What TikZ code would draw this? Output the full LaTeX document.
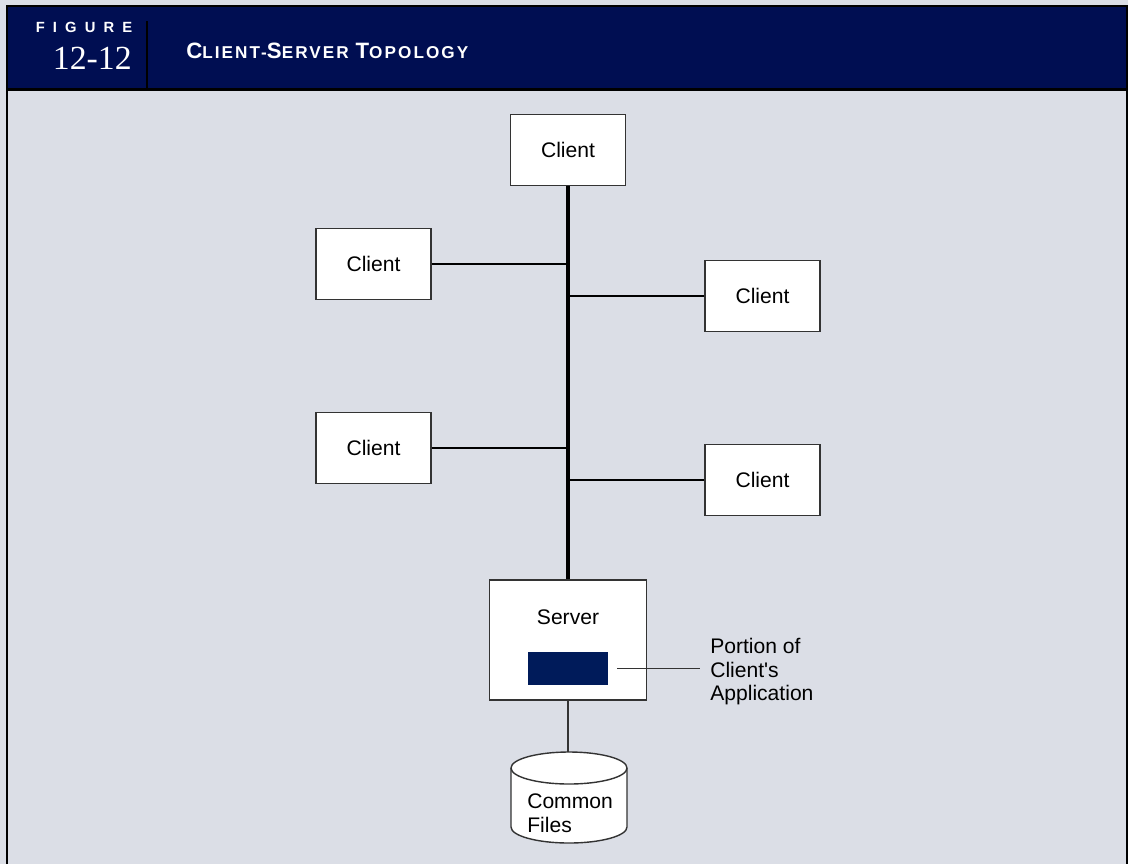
\documentclass[tikz,border=0pt]{standalone}
\usepackage{fontspec}
\setmainfont{Liberation Sans}
\newfontfamily\numfont{Liberation Serif}
\newfontfamily\headfont[LetterSpace=12]{Liberation Sans}
\newfontfamily\figfont[LetterSpace=55]{Liberation Sans}
\usepackage{tikz}
\usetikzlibrary{positioning}
\definecolor{panelgray}{RGB}{219,222,230}
\definecolor{headnavy}{RGB}{0,14,82}
\definecolor{appnavy}{RGB}{0,27,90}

\begin{document}
\begin{tikzpicture}[x=0.025cm, y=-0.025cm,
  every node/.style={font=\fontsize{15}{16.7}\selectfont},
  box/.style={draw=black!80, line width=1pt, fill=white, minimum width=2.875cm, minimum height=1.775cm, inner sep=0pt},
  bus/.style={line width=2.4pt},
  tap/.style={line width=1.8pt},
  thinline/.style={draw=black!80, line width=1pt}]
  \useasboundingbox (0,0) rectangle (1128,864);
  \fill[panelgray] (0,0) rectangle (1128,864);

  % header band
  \fill[headnavy] (7,6) rectangle (1127,90);
  \draw[line width=2pt] (7,864) -- (7,6) -- (1127,6) -- (1127,864);
  \draw[line width=2pt] (7,89.5) -- (1127,89.5);
  \draw[line width=2pt] (147,21) -- (147,89.5);
  \node[font=\figfont\bfseries\fontsize{10.5}{12}\selectfont, text=white, inner sep=0pt] (figword) at (84,27) {FIGURE};
  \node[font=\numfont\fontsize{24}{26}\selectfont, text=white, anchor=east, inner sep=0pt] (fignum) at (132,58) {12-12};
  \node[font=\headfont\bfseries, text=white, anchor=west, inner sep=0pt] (title) at (186,51)
    {{\fontsize{15.8}{18}\selectfont C}{\fontsize{12.2}{14}\selectfont LIENT-}{\fontsize{15.8}{18}\selectfont S}{\fontsize{12.2}{14}\selectfont ERVER }{\fontsize{15.8}{18}\selectfont T}{\fontsize{12.2}{14}\selectfont OPOLOGY}};

  % clients
  \node[box] (top) at (568,150) {Client};
  \foreach \name/\x/\y in {l1/373.5/264, r1/762.5/296, l2/373.5/448, r2/762.5/480}
    \node[box] (\name) at (\x,\y) {Client};

  % server
  \node[box, minimum width=3.925cm, minimum height=3cm] (server) at (568,640) {};
  \node[inner sep=0pt] (srvtext) at (568,617) {Server};
  \node[fill=appnavy, minimum width=2cm, minimum height=0.825cm, inner sep=0pt] (app) at (568,668.5) {};
  \node[align=left, anchor=west, inner sep=0pt] (portion) at (710,672) {Portion of\\Client\textquotesingle s\\Application};

  % common files
  \coordinate (filestop) at (569,752);
  \draw[draw=black!80, line width=1pt, fill=white] (511,768) -- (511,827)
    arc[start angle=180, end angle=0, x radius=58, y radius=16] -- (627,768)
    arc[start angle=0, end angle=-180, x radius=58, y radius=16] -- cycle;
  \draw[draw=black!80, line width=1pt] (511,768) arc[start angle=180, end angle=0, x radius=58, y radius=16];
  \node[align=left, anchor=west, inner sep=0pt] (filetext) at (527,813) {Common\\Files};

  % bus and taps
  \draw[bus] (top.south) -- (top.south |- server.north);
  \foreach \name in {l1,l2}
    \draw[tap] (\name.east) -- (\name.east -| top.south);
  \foreach \name in {r1,r2}
    \draw[tap] (\name.west) -- (\name.west -| top.south);
  \draw[thinline] ([xshift=0.225cm]app.east) -- ([xshift=-0.25cm]portion.west |- app.east);
  \draw[thinline] (server.south) -- (server.south |- filestop);
\end{tikzpicture}
\end{document}
